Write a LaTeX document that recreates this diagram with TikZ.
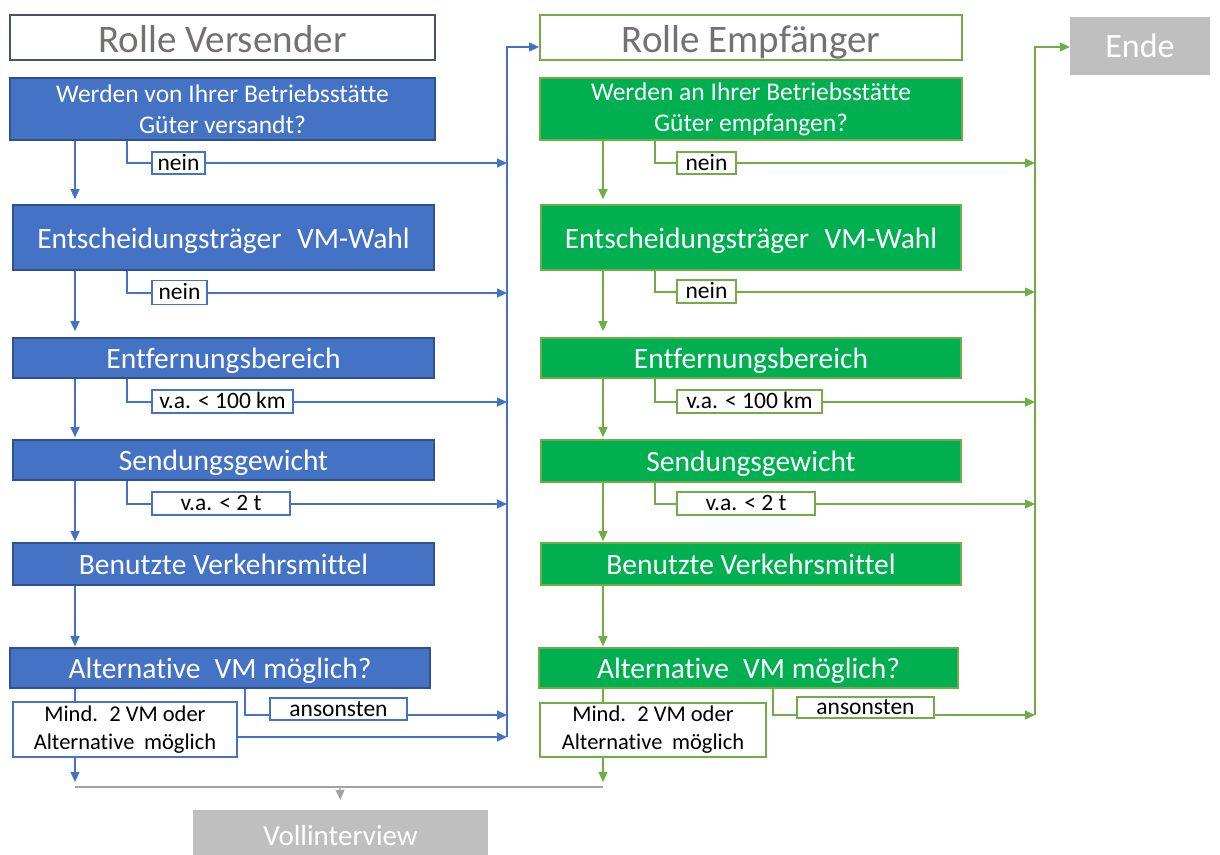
\documentclass[tikz,border=0pt]{standalone}
\usepackage{fontspec}
\setmainfont{Carlito}[Ligatures=NoCommon]
\usetikzlibrary{arrows.meta,calc}
\definecolor{bfill}{HTML}{4472C4}
\definecolor{bdraw}{HTML}{2F528F}
\definecolor{gfill}{HTML}{00B050}
\definecolor{gdraw}{HTML}{70AD47}
\definecolor{titleg}{HTML}{767171}
\definecolor{greyb}{HTML}{BFBFBF}
\definecolor{slate}{HTML}{44546A}
\begin{document}
\begin{tikzpicture}[x=1pt,y=-1pt,
  box/.style={rectangle, inner sep=0pt, align=center, line width=1.6pt, text=white, font=\fontsize{29.5}{32}\selectfont, text height=23pt, text depth=2pt},
  bluebox/.style={box, fill=bfill, draw=bdraw},
  greenbox/.style={box, fill=gfill, draw=gdraw},
  twoline/.style={font=\fontsize{25.5}{31}\selectfont, text height=, text depth=},
  titlebox/.style={rectangle, inner sep=0pt, fill=white, line width=1.8pt, text=titleg, font=\fontsize{39}{44}\selectfont, text height=32pt, text depth=2pt},
  lbl/.style={rectangle, inner sep=0pt, fill=white, line width=1.5pt, text=black, font=\fontsize{23.5}{26}\selectfont, text height=16.5pt, text depth=2.3pt},
  mind/.style={lbl, align=center, font=\fontsize{22.5}{28}\selectfont, text height=, text depth=},
  greybox/.style={rectangle, inner sep=0pt, fill=greyb, text=white},
  bl/.style={draw=bfill, line width=1.2pt},
  gl/.style={draw=gdraw, line width=1.2pt},
  grl/.style={draw=greyb!85!black, line width=1.2pt},
  tip/.style={-{Triangle[length=10pt,width=9pt]}}
]
\useasboundingbox[fill=white] (0,0) rectangle (1220,854);

% ---------- left column (Versender) ----------
\node[titlebox, draw=slate, minimum width=425pt, minimum height=45pt] (t1) at (222.5,37.5) {Rolle Versender};
\node[bluebox, twoline, minimum width=425pt, minimum height=62pt] (v1) at (222.5,109) {Werden von Ihrer Betriebsstätte\\Güter versandt?};
\node[bluebox, minimum width=421pt, minimum height=65pt] (v2) at (223.5,237.5) {Entscheidungsträger\hspace{0.3em} VM-Wahl};
\node[bluebox, minimum width=421pt, minimum height=40pt] (v3) at (223.5,358) {Entfernungsbereich};
\node[bluebox, minimum width=421pt, minimum height=40pt] (v4) at (223.5,460) {Sendungsgewicht};
\node[bluebox, minimum width=421pt, minimum height=42pt] (v5) at (223.5,564) {Benutzte Verkehrsmittel};
\node[bluebox, minimum width=420pt, minimum height=40pt] (v6) at (220,668) {Alternative\hspace{0.25em} VM möglich?};
\node[mind, draw=bfill, minimum width=224pt, minimum height=55pt] (m1) at (125,729.5) {Mind.\hspace{0.2em} 2 VM oder\\Alternative\hspace{0.2em} möglich};

\coordinate (bx) at (75,0);
\coordinate (bb) at (127,0);
\coordinate (L) at (507,0);

% branch lines (drawn before labels)
\draw[bl] (v1.south -| bb) |- (178,163) coordinate (b1);
\draw[bl,tip] (b1) -- (b1 -| L);
\draw[bl] (v2.south -| bb) |- (180,293) coordinate (b2);
\draw[bl,tip] (b2) -- (b2 -| L);
\draw[bl] (v3.south -| bb) |- (222,402) coordinate (b3);
\draw[bl,tip] (b3) -- (b3 -| L);
\draw[bl] (v4.south -| bb) |- (221,504) coordinate (b4);
\draw[bl,tip] (b4) -- (b4 -| L);
\draw[bl] (v6.south -| 245,0) |- (338,715) coordinate (b5);
\draw[bl,tip] (b5) -- (b5 -| L);
\draw[bl,tip] (m1.east |- 0,737) -- (L |- 0,737);

\node[lbl, draw=bfill, minimum width=53pt, minimum height=22pt] (n1) at (178.5,163) {nein};
\node[lbl, draw=bfill, minimum width=55pt, minimum height=24pt] (n2) at (179.5,292.5) {nein};
\node[lbl, draw=bfill, minimum width=141pt, minimum height=23pt] (n3) at (222.5,401.5) {v.a. < 100 km};
\node[lbl, draw=bfill, minimum width=138pt, minimum height=23pt] (n4) at (221,503.5) {v.a. < 2 t};
\node[lbl, draw=bfill, minimum width=137pt, minimum height=22pt] (n5) at (338.5,709) {ansonsten};

% main vertical arrows
\draw[bl,tip,shorten >=5pt] (v1.south -| bx) -- (v2.north -| bx);
\draw[bl,tip,shorten >=6pt] (v2.south -| bx) -- (v3.north -| bx);
\draw[bl,tip,shorten >=2pt] (v3.south -| bx) -- (v4.north -| bx);
\draw[bl,tip,shorten >=1pt] (v4.south -| bx) -- (v5.north -| bx);
\draw[bl,tip,shorten >=1pt] (v5.south -| bx) -- (v6.north -| bx);
\draw[bl] (v6.south -| bx) -- (m1.north -| bx);

% ---------- right column (Empfänger) ----------
\node[titlebox, draw=gdraw, minimum width=422pt, minimum height=45pt] (t2) at (751,37.5) {Rolle Empfänger};
\node[greenbox, twoline, minimum width=422pt, minimum height=62pt] (g1) at (751,109) {Werden an Ihrer Betriebsstätte\\Güter empfangen?};
\node[greenbox, minimum width=420pt, minimum height=65pt] (g2) at (751,237.5) {Entscheidungsträger\hspace{0.3em} VM-Wahl};
\node[greenbox, minimum width=420pt, minimum height=40pt] (g3) at (751,358) {Entfernungsbereich};
\node[greenbox, minimum width=420pt, minimum height=42pt] (g4) at (751,461) {Sendungsgewicht};
\node[greenbox, minimum width=420pt, minimum height=42pt] (g5) at (751,564) {Benutzte Verkehrsmittel};
\node[greenbox, minimum width=419pt, minimum height=40pt] (g6) at (748.5,668) {Alternative\hspace{0.25em} VM möglich?};
\node[mind, draw=gdraw, minimum width=226pt, minimum height=54pt] (m2) at (653,730) {Mind.\hspace{0.2em} 2 VM oder\\Alternative\hspace{0.2em} möglich};

\coordinate (gx) at (603,0);
\coordinate (gb) at (655,0);
\coordinate (R) at (1035,0);

\draw[gl] (g1.south -| gb) |- (706,163) coordinate (c1);
\draw[gl,tip] (c1) -- (c1 -| R);
\draw[gl] (g2.south -| gb) |- (706,292) coordinate (c2);
\draw[gl,tip] (c2) -- (c2 -| R);
\draw[gl] (g3.south -| gb) |- (750,402) coordinate (c3);
\draw[gl,tip] (c3) -- (c3 -| R);
\draw[gl] (g4.south -| gb) |- (746,504) coordinate (c4);
\draw[gl,tip] (c4) -- (c4 -| R);
\draw[gl] (g6.south -| 773,0) |- (865,715) coordinate (c5);
\draw[gl,tip] (c5) -- (c5 -| R);

\node[lbl, draw=gdraw, minimum width=59pt, minimum height=22pt] (gn1) at (706.5,163) {nein};
\node[lbl, draw=gdraw, minimum width=59pt, minimum height=23pt] (gn2) at (706.5,291.5) {nein};
\node[lbl, draw=gdraw, minimum width=145pt, minimum height=23pt] (gn3) at (749.5,401.5) {v.a. < 100 km};
\node[lbl, draw=gdraw, minimum width=138pt, minimum height=23pt] (gn4) at (746,503.5) {v.a. < 2 t};
\node[lbl, draw=gdraw, minimum width=137pt, minimum height=21pt] (gn5) at (865.5,707.5) {ansonsten};

\draw[gl,tip,shorten >=5pt] (g1.south -| gx) -- (g2.north -| gx);
\draw[gl,tip,shorten >=6pt] (g2.south -| gx) -- (g3.north -| gx);
\draw[gl,tip,shorten >=2pt] (g3.south -| gx) -- (g4.north -| gx);
\draw[gl,tip,shorten >=1pt] (g4.south -| gx) -- (g5.north -| gx);
\draw[gl,tip,shorten >=1pt] (g5.south -| gx) -- (g6.north -| gx);
\draw[gl] (g6.south -| gx) -- (m2.north -| gx);

% ---------- end nodes ----------
\node[greybox, minimum width=140pt, minimum height=58pt, font=\fontsize{34}{40}\selectfont] (ende) at (1140,46) {Ende};
\node[greybox, minimum width=295pt, minimum height=46pt, font=\fontsize{29}{32}\selectfont, text height=27pt, text depth=2pt] (voll) at (340.5,833) {Vollinterview};

% collector lines
\draw[bl,tip] (L |- 0,737) -- (L |- 0,47) -- (t2.west |- 0,47);
\draw[gl,tip] (R |- 0,715) -- (R |- 0,47) -- (ende.west |- 0,47);

\coordinate (jb) at (75,787);
\coordinate (jg) at (603,787);
\coordinate (jm) at (340,787);
\draw[grl] (jb) -- (jg);
\draw[bl,tip,shorten >=5pt] (m1.south -| bx) -- (jb);
\draw[gl,tip,shorten >=5pt] (m2.south -| gx) -- (jg);
\draw[grl,tip,shorten >=10pt] (jm) -- (voll.north);
\end{tikzpicture}
\end{document}
